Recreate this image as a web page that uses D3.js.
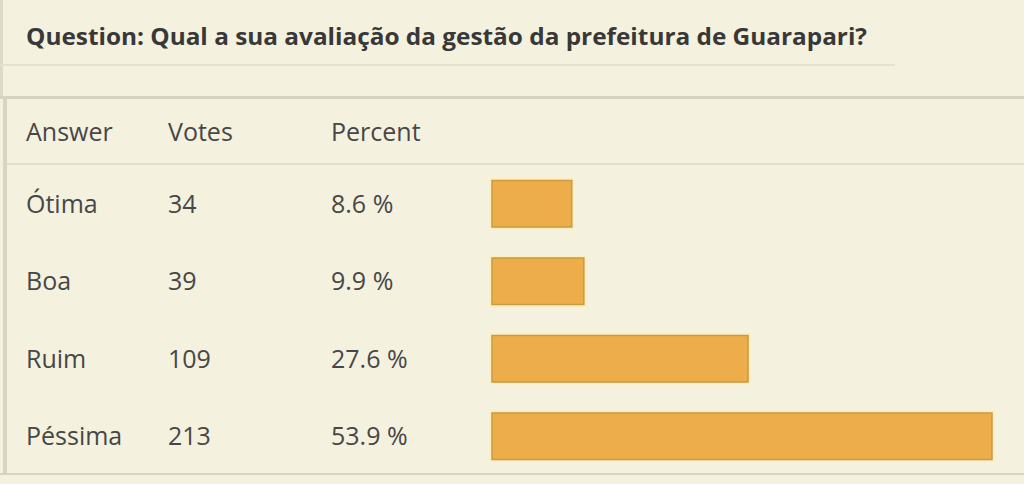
<!DOCTYPE html>
<html>
<head>
<meta charset="utf-8">
<script src="https://cdn.jsdelivr.net/npm/d3@7"></script>
<style>
  html, body { margin: 0; padding: 0; background: #f4f1df; }
  svg { display: block; }
</style>
</head>
<body>
<svg id="chart" width="1024" height="484"></svg>
<script>
const title = "Question: Qual a sua avaliação da gestão da prefeitura de Guarapari?";
const headers = ["Answer", "Votes", "Percent"];
const answers = ["Ótima", "Boa", "Ruim", "Péssima"];
const votes = [34, 39, 109, 213];
const percents = [8.6, 9.9, 27.6, 53.9];
const percentLabels = ["8.6 %", "9.9 %", "27.6 %", "53.9 %"];

const W = 1024, H = 484;
const svg = d3.select("#chart");
const font = "'Open Sans', 'Noto Sans', sans-serif";

svg.append("rect").attr("width", W).attr("height", H).attr("fill", "#f4f1df");

// frame lines
svg.append("rect").attr("x", 0).attr("y", 0).attr("width", 3).attr("height", 97).attr("fill", "#dedac7");
svg.append("rect").attr("x", 3).attr("y", 97).attr("width", 4).attr("height", 378).attr("fill", "#d9d5c1");
svg.append("rect").attr("x", 0).attr("y", 64).attr("width", 895).attr("height", 2).attr("fill", "#e6e2cf");
svg.append("rect").attr("x", 0).attr("y", 96).attr("width", W).attr("height", 3).attr("fill", "#d6d2be");
svg.append("rect").attr("x", 7).attr("y", 163).attr("width", W).attr("height", 2).attr("fill", "#e3dfcb");
svg.append("rect").attr("x", 0).attr("y", 473).attr("width", W).attr("height", 2).attr("fill", "#d8d4c0");

// title
const t = svg.append("text")
  .attr("x", 26).attr("y", 45)
  .attr("font-family", font).attr("font-weight", 700).attr("font-size", 24)
  .attr("fill", "#383838")
  .text(title);
const tw = t.node().getComputedTextLength();
if (Math.abs(tw - 841) > 4) t.attr("textLength", 841).attr("lengthAdjust", "spacingAndGlyphs");

const colX = [26, 168, 331];
svg.selectAll("text.hdr").data(headers).join("text")
  .attr("class", "hdr")
  .attr("x", (d, i) => colX[i]).attr("y", 141)
  .attr("font-family", font).attr("font-size", 25)
  .attr("fill", "#474747")
  .text(d => d);

const y = d3.scaleBand().domain(answers).range([165, 475]).paddingInner(0.4).paddingOuter(0.2);
const x = d3.scaleLinear().domain([0, d3.max(percents)]).range([492, 992]);

const rows = svg.selectAll("g.row").data(answers).join("g").attr("class", "row");
const cy = d => y(d) + y.bandwidth() / 2;

rows.append("text").attr("x", colX[0]).attr("y", d => cy(d) + 9)
  .attr("font-family", font).attr("font-size", 25).attr("fill", "#474747")
  .text(d => d);
rows.append("text").attr("x", colX[1]).attr("y", d => cy(d) + 9)
  .attr("font-family", font).attr("font-size", 25).attr("fill", "#474747")
  .text((d, i) => votes[i]);
rows.append("text").attr("x", colX[2]).attr("y", d => cy(d) + 9)
  .attr("font-family", font).attr("font-size", 25).attr("fill", "#474747")
  .text((d, i) => percentLabels[i]);

// glow
rows.append("rect")
  .attr("x", x(0) - 1).attr("y", d => y(d) - 1)
  .attr("width", (d, i) => x(percents[i]) - x(0) + 2).attr("height", y.bandwidth() + 2)
  .attr("fill", "none").attr("stroke", "#fbefc2").attr("stroke-width", 3);
rows.append("rect")
  .attr("x", x(0)).attr("y", d => y(d))
  .attr("width", (d, i) => x(percents[i]) - x(0)).attr("height", y.bandwidth())
  .attr("fill", "#edad4b").attr("stroke", "#c99a40").attr("stroke-width", 1.5);
</script>
</body>
</html>
